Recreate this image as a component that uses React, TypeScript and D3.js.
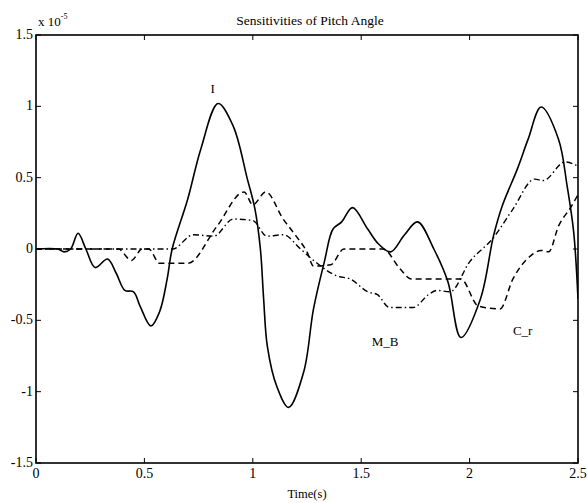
import React from "react";
import * as d3 from "d3";

const xTicks = [0, 0.5, 1, 1.5, 2, 2.5];
const yTicks = [-1.5, -1, -0.5, 0, 0.5, 1, 1.5];
const yTickLabels = ["-1.5", "-1", "-0.5", "0", "0.5", "1", "1.5"];
const xTickLabels = ["0", "0.5", "1", "1.5", "2", "2.5"];

const seriesI: [number, number][] = [
  [0, 0], [0.1, 0], [0.13, -0.02], [0.16, 0.0], [0.194, 0.11], [0.23, 0.0],
  [0.273, -0.13], [0.33, -0.07], [0.37, -0.17], [0.41, -0.29], [0.45, -0.3],
  [0.48, -0.4], [0.53, -0.54], [0.57, -0.44], [0.605, -0.21], [0.628, 0],
  [0.7, 0.35], [0.76, 0.7], [0.84, 1.02], [0.91, 0.86], [0.975, 0.49],
  [1.01, 0.28], [1.035, 0], [1.05, -0.35], [1.067, -0.68], [1.11, -0.96],
  [1.165, -1.11], [1.235, -0.86], [1.28, -0.42], [1.33, -0.09], [1.37, 0.14],
  [1.41, 0.19], [1.46, 0.29], [1.53, 0.14], [1.58, 0.035], [1.636, -0.02],
  [1.7, 0.1], [1.76, 0.19], [1.835, 0], [1.9, -0.23], [1.96, -0.62],
  [2.05, -0.35], [2.11, 0.09], [2.15, 0.3], [2.22, 0.56], [2.27, 0.77],
  [2.33, 0.995], [2.41, 0.77], [2.45, 0.44], [2.48, 0.12], [2.5, -0.35],
];

const seriesCr: [number, number][] = [
  [0, 0], [0.38, 0], [0.44, -0.08], [0.49, 0], [0.52, 0], [0.57, -0.1],
  [0.7, -0.1], [0.835, 0.16], [0.96, 0.4], [1.0, 0.31], [1.06, 0.4],
  [1.14, 0.21], [1.2, 0.09], [1.25, -0.02], [1.28, -0.12], [1.36, -0.11],
  [1.42, 0], [1.6, 0], [1.68, -0.14], [1.73, -0.21], [1.96, -0.21],
  [2.04, -0.4], [2.14, -0.42], [2.2, -0.21], [2.28, -0.05], [2.33, -0.01],
  [2.365, -0.02], [2.41, 0.16], [2.47, 0.3], [2.5, 0.38],
];

const seriesMB: [number, number][] = [
  [0, 0], [0.63, 0], [0.725, 0.1], [0.82, 0.09], [0.91, 0.21], [1.0, 0.2],
  [1.065, 0.09], [1.14, 0.1], [1.22, 0], [1.28, -0.08], [1.39, -0.19],
  [1.45, -0.21], [1.53, -0.3], [1.575, -0.32], [1.63, -0.41], [1.74, -0.41],
  [1.81, -0.32], [1.85, -0.29], [1.91, -0.3], [2.0, -0.09], [2.11, 0.08],
  [2.2, 0.28], [2.3, 0.49], [2.34, 0.48], [2.44, 0.61], [2.5, 0.58],
];

const W = 587;
const H = 503;
const M = { left: 36, right: 578, top: 35, bottom: 463 };
const FONT = "'Liberation Serif', 'Times New Roman', serif";

export default function App() {
  const x = d3.scaleLinear().domain([0, 2.5]).range([M.left, M.right]);
  const y = d3.scaleLinear().domain([-1.5, 1.5]).range([M.bottom, M.top]);
  const smooth = d3
    .line<[number, number]>()
    .x((d) => x(d[0]))
    .y((d) => y(d[1]))
    .curve(d3.curveCatmullRom.alpha(0.5));
  const lin = d3
    .line<[number, number]>()
    .x((d) => x(d[0]))
    .y((d) => y(d[1]))
    .curve(d3.curveMonotoneX);
  const tl = 5;
  return (
    <svg
      width={W}
      height={H}
      style={{ position: "absolute", left: 0, top: 0, background: "#fff" }}
      fontFamily={FONT}
    >
      <rect x={0} y={0} width={W} height={H} fill="#fff" />
      <defs>
        <clipPath id="clip">
          <rect x={M.left} y={M.top} width={M.right - M.left} height={M.bottom - M.top} />
        </clipPath>
      </defs>
      <g clipPath="url(#clip)">
        <path d={lin(seriesMB) || ""} fill="none" stroke="#000" strokeWidth={1.4} strokeDasharray="6,3,1.5,3" />
        <path d={lin(seriesCr) || ""} fill="none" stroke="#000" strokeWidth={1.5} strokeDasharray="6,4" />
        <path d={smooth(seriesI) || ""} fill="none" stroke="#000" strokeWidth={1.6} />
      </g>
      <rect
        x={M.left}
        y={M.top}
        width={M.right - M.left}
        height={M.bottom - M.top}
        fill="none"
        stroke="#000"
        strokeWidth={1.6}
      />
      {xTicks.map((t, i) => (
        <g key={"x" + i}>
          <line x1={x(t)} x2={x(t)} y1={M.bottom} y2={M.bottom - tl} stroke="#000" />
          <line x1={x(t)} x2={x(t)} y1={M.top} y2={M.top + tl} stroke="#000" />
          <text x={x(t)} y={M.bottom + 15} fontSize={14} textAnchor="middle">
            {xTickLabels[i]}
          </text>
        </g>
      ))}
      {yTicks.map((t, i) => (
        <g key={"y" + i}>
          <line x1={M.left} x2={M.left + tl} y1={y(t)} y2={y(t)} stroke="#000" />
          <line x1={M.right} x2={M.right - tl} y1={y(t)} y2={y(t)} stroke="#000" />
          <text x={M.left - 3} y={y(t) + 4} fontSize={14} textAnchor="end">
            {yTickLabels[i]}
          </text>
        </g>
      ))}
      <text x={38} y={26} fontSize={13}>
        x 10
        <tspan fontSize={8} dy={-7}>-5</tspan>
      </text>
      <text x={310} y={25} fontSize={13.5} textAnchor="middle">
        Sensitivities of Pitch Angle
      </text>
      <text x={(M.left + M.right) / 2} y={498} fontSize={12.5} textAnchor="middle">
        Time(s)
      </text>
      <text x={x(0.815)} y={93} fontSize={13} textAnchor="middle">I</text>
      <text x={x(1.61)} y={346} fontSize={13} textAnchor="middle">M_B</text>
      <text x={x(2.245)} y={335} fontSize={13} textAnchor="middle">C_r</text>
    </svg>
  );
}
